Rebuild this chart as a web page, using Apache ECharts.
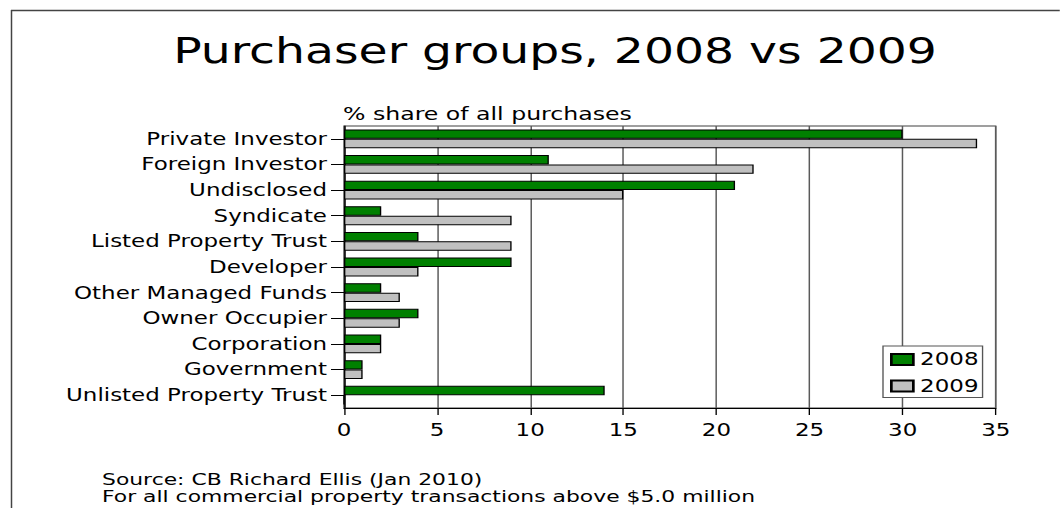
<!DOCTYPE html>
<html><head><meta charset="utf-8">
<script src="https://cdn.jsdelivr.net/npm/echarts@6/dist/echarts.min.js"></script>
<style>
html,body{margin:0;padding:0;background:#fff;overflow:hidden;}
#wrap{width:1060px;height:508px;overflow:hidden;position:relative;}
#c{height:508px;transform-origin:0 0;position:absolute;left:0;top:0;}
</style></head><body><div id="wrap"><div id="c"></div></div>
<script>
const titleText = 'Purchaser groups, 2008 vs 2009';
const subTitle = '% share of all purchases';
const sourceLines = ['Source: CB Richard Ellis (Jan 2010)', 'For all commercial property transactions above $5.0 million'];
const categories = ['Private Investor','Foreign Investor','Undisclosed','Syndicate','Listed Property Trust','Developer','Other Managed Funds','Owner Occupier','Corporation','Government','Unlisted Property Trust'];
const seriesNames = ['2008','2009'];
const values2008 = [30,11,21,2,4,9,2,4,2,1,14];
const values2009 = [34,22,15,9,9,4,3,3,2,1,0];
const xTicks = [0,5,10,15,20,25,30,35];

// the original slide image is stretched horizontally
const S = 1.35;
const W = 1060 / S;
const X = v => v / S;
const dom = document.getElementById('c');
dom.style.width = W + 'px';
dom.style.transform = 'scaleX(' + S + ')';

const FONT = "'DejaVu Sans', sans-serif";
const chart = echarts.init(dom, null, {renderer:'svg'});
const option = {
  animation:false,
  backgroundColor:'#fff',
  textStyle:{fontFamily:FONT},
  grid:{left:X(344),right:W - X(996),top:126,bottom:100,show:true,borderColor:'#404040',borderWidth:1,backgroundColor:'transparent'},
  xAxis:{type:'value',min:xTicks[0],max:xTicks[xTicks.length-1],interval:xTicks[1]-xTicks[0],
    axisLine:{show:true,lineStyle:{color:'#000',width:1}},
    axisTick:{show:true,length:7,lineStyle:{color:'#000'}},
    axisLabel:{color:'#000',fontSize:17,margin:14,fontFamily:FONT},
    splitLine:{show:true,lineStyle:{color:'#5a5a5a',width:1.1}}},
  yAxis:{type:'category',data:categories,inverse:true,
    axisLine:{show:true,lineStyle:{color:'#000'}},
    axisTick:{show:true,alignWithLabel:true,length:X(13),lineStyle:{color:'#000'}},
    axisLabel:{color:'#000',fontSize:17,margin:X(17),fontFamily:FONT},
    splitLine:{show:false}},
  legend:{orient:'vertical',left:X(883),top:346,itemWidth:X(22),itemHeight:11,itemGap:9.5,
    padding:[5,3,3,X(7)],backgroundColor:'#fff',borderColor:'#555',borderWidth:1,
    icon:'rect',data:seriesNames,textStyle:{fontSize:17,color:'#000',fontFamily:FONT}},
  series:[
    {type:'bar',name:seriesNames[0],data:values2008,barWidth:9.4,barGap:'0%',
     itemStyle:{color:'#008000',borderColor:'#000',borderWidth:1}},
    {type:'bar',name:seriesNames[1],data:values2009,barWidth:9.4,barGap:'0%',
     itemStyle:{color:'#c0c0c0',borderColor:'#000',borderWidth:1}}
  ],
  graphic:[
    {type:'line',shape:{x1:X(11),y1:10.5,x2:W,y2:10.5},style:{stroke:'#444',lineWidth:1.5},silent:true},
    {type:'line',shape:{x1:X(11.5),y1:10,x2:X(11.5),y2:508},style:{stroke:'#444',lineWidth:1.1},silent:true},
    {type:'text',x:X(555),y:51,style:{text:titleText,textAlign:'center',textVerticalAlign:'middle',fontSize:35,fontFamily:FONT,fill:'#000'}},
    {type:'text',x:X(343),y:114,style:{text:subTitle,textAlign:'left',textVerticalAlign:'middle',fontSize:17.5,fontFamily:FONT,fill:'#000'}},
    {type:'text',x:X(102),y:480,scaleX:1.08,style:{text:sourceLines[0],textAlign:'left',textVerticalAlign:'middle',fontSize:15,fontFamily:FONT,fill:'#000'}},
    {type:'text',x:X(102),y:497,scaleX:1.08,style:{text:sourceLines[1],textAlign:'left',textVerticalAlign:'middle',fontSize:15,fontFamily:FONT,fill:'#000'}}
  ]
};
chart.setOption(option);
</script></body></html>
